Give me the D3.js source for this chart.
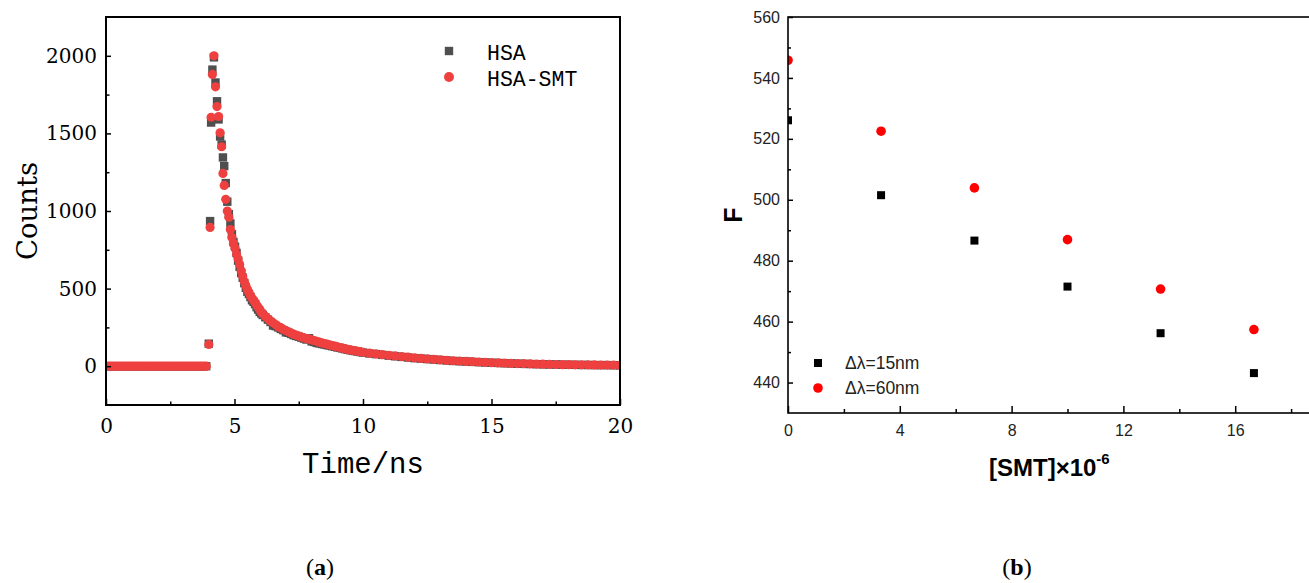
<!DOCTYPE html>
<html lang="en">
	<head>
		<meta charset="utf-8">
		<title>Fluorescence decay and quenching</title>
		<script type="text/javascript" src="https://cdn.jsdelivr.net/npm/d3@7/dist/d3.min.js"></script>
		<style type="text/css">
			body { margin: 0; background: #fff; }
			svg { display: block; }
		</style>
	</head>
	<body>
		<script type="text/javascript">

			//Panel (a) data: decay curves
			var timeNs = [0, 0.1, 0.2, 0.3, 0.4, 0.5, 0.6, 0.7, 0.8, 0.9, 1.0, 1.1, 1.2, 1.3, 1.4, 1.5, 1.6, 1.7, 1.8, 1.9,
				2.0, 2.1, 2.2, 2.3, 2.4, 2.5, 2.6, 2.7, 2.8, 2.9, 3.0, 3.1, 3.2, 3.3, 3.4, 3.5, 3.6, 3.7, 3.8, 3.9,
				4.0, 4.05, 4.09, 4.14, 4.2, 4.26, 4.32, 4.38, 4.44, 4.5,
				4.55, 4.6, 4.66, 4.72, 4.78, 4.84, 4.9, 4.96, 5.02, 5.08, 5.14, 5.2, 5.26, 5.32, 5.38, 5.44, 5.5,
				5.56, 5.62, 5.68, 5.74, 5.8, 5.86, 5.92, 5.98, 6.04,
				6.1, 6.2, 6.3, 6.4, 6.5, 6.6, 6.7, 6.8, 6.9, 7.0, 7.1, 7.2, 7.3, 7.4, 7.5, 7.6, 7.7, 7.8, 7.9, 8.0,
				8.1, 8.2, 8.3, 8.4, 8.5, 8.6, 8.7, 8.8, 8.9, 9.0, 9.1, 9.2, 9.3, 9.4, 9.5, 9.6, 9.7, 9.8, 9.9, 10.0,
				10.25, 10.5, 10.75, 11.0, 11.25, 11.5, 11.75, 12.0, 12.25, 12.5, 12.75, 13.0, 13.25, 13.5, 13.75, 14.0,
				14.25, 14.5, 14.75, 15.0, 15.25, 15.5, 15.75, 16.0, 16.25, 16.5, 16.75, 17.0, 17.25, 17.5, 17.75, 18.0,
				18.25, 18.5, 18.75, 19.0, 19.25, 19.5, 19.75, 20.0];

			var hsaCounts = [0, 0, 0, 0, 0, 0, 0, 0, 0, 0, 0, 0, 0, 0, 0, 0, 0, 0, 0, 0,
				0, 0, 0, 0, 0, 0, 0, 0, 0, 0, 0, 0, 0, 0, 0, 0, 0, 0, 0, 0,
				145, 935, 1570, 1911, 1990, 1828, 1707, 1590, 1480, 1428,
				1345, 1289, 1180, 1060, 980, 920, 850, 800, 770, 730, 680, 640, 600, 570, 535, 505, 480,
				465, 445, 425, 415, 400, 380, 365, 350, 340,
				330, 315, 300, 285, 262, 258, 250, 240, 232, 218, 215, 208, 200, 195, 190, 184, 178, 172, 180, 160,
				156, 150, 147, 143, 140, 136, 133, 129, 125, 121, 118, 114, 110, 106, 103, 100, 97, 94, 91, 88,
				82, 78, 73, 68, 64, 60, 56, 52, 49, 46, 43, 40, 37, 34, 32, 30,
				28, 26, 24, 22, 21, 19, 18, 16, 15, 14, 13, 12, 11, 11, 10, 9,
				9, 8, 8, 7, 7, 7, 6, 6];

			var smtCounts = [0, 0, 0, 0, 0, 0, 0, 0, 0, 0, 0, 0, 0, 0, 0, 0, 0, 0, 0, 0,
				0, 0, 0, 0, 0, 0, 0, 0, 0, 0, 0, 0, 0, 0, 0, 0, 0, 0, 0, 0,
				140, 894, 1604, 1880, 2000, 1800, 1673, 1609, 1504, 1414,
				1242, 1165, 1075, 1000, 960, 880, 830, 790, 760, 720, 690, 655, 615, 580, 545, 520, 495,
				475, 455, 440, 425, 410, 395, 380, 365, 350,
				338, 322, 305, 292, 280, 268, 255, 247, 238, 230, 222, 214, 206, 200, 194, 188, 183, 178, 174, 170,
				165, 160, 155, 150, 146, 142, 137, 133, 129, 125, 120, 116, 112, 108, 105, 102, 99, 96, 93, 90,
				84, 79, 74, 70, 66, 62, 58, 54, 50, 47, 44, 41, 38, 35, 33, 31,
				29, 27, 25, 23, 21, 20, 18, 17, 16, 15, 14, 13, 12, 11, 10, 10,
				9, 9, 8, 8, 7, 7, 7, 6];

			var decayXTicks = [0, 5, 10, 15, 20];
			var decayXMinor = [2.5, 7.5, 12.5, 17.5];
			var decayYTicks = [0, 500, 1000, 1500, 2000];
			var decayYMinor = [250, 750, 1250, 1750];

			//Panel (b) data: F versus [SMT]
			var smtConc = [0, 3.33, 6.67, 10, 13.33, 16.67];
			var f15nm = [526.1, 501.5, 486.6, 471.5, 456.2, 443.1];
			var f60nm = [545.8, 522.5, 503.9, 486.9, 470.7, 457.4];

			var concXTicks = [0, 4, 8, 12, 16];
			var concXMinor = [2, 6, 10, 14, 18];
			var fYTicks = [440, 460, 480, 500, 520, 540, 560];
			var fYMinor = [450, 470, 490, 510, 530, 550];

			var w = 1309;
			var h = 583;

			var serif = "'DejaVu Serif', serif";
			var mono = "'Liberation Mono', monospace";
			var sans = "'Liberation Sans', Arial, sans-serif";
			var plain = d3.format("d");

			var svg = d3.select("body")
						.append("svg")
						.attr("width", w)
						.attr("height", h);

			svg.append("rect")
				.attr("width", w)
				.attr("height", h)
				.attr("fill", "white");

			//Scales
			var xL = d3.scaleLinear().domain([0, 20]).range([106, 620]);
			var yL = d3.scaleLinear().domain([-250, 2250]).range([405, 17]);
			var xR = d3.scaleLinear().domain([0, 20]).range([788, 1347]);
			var yR = d3.scaleLinear().domain([430, 560]).range([413, 17]);

			var defs = svg.append("defs");
			defs.append("clipPath").attr("id", "clipL")
				.append("rect")
				.attr("x", xL(0)).attr("y", yL(2250))
				.attr("width", xL(20) - xL(0)).attr("height", yL(-250) - yL(2250));
			defs.append("clipPath").attr("id", "clipR")
				.append("rect")
				.attr("x", xR(0)).attr("y", yR(560))
				.attr("width", xR(20) - xR(0)).attr("height", yR(430) - yR(560));

			function styleAxis(g, family, size, color) {
				g.select(".domain").remove();
				g.selectAll("line").attr("stroke", "black").attr("stroke-width", 1.5);
				g.attr("font-family", family).attr("font-size", size);
				g.selectAll("text").attr("fill", color);
			}

			// ---------- Panel (a) ----------
			var left = svg.append("g");

			var decay = left.append("g").attr("clip-path", "url(#clipL)");

			decay.selectAll("rect.hsa")
				.data(timeNs)
				.enter()
				.append("rect")
				.attr("class", "hsa")
				.attr("x", function(d) { return xL(d) - 4.2; })
				.attr("y", function(d, i) { return yL(hsaCounts[i]) - 4.2; })
				.attr("width", 8.4)
				.attr("height", 8.4)
				.attr("fill", "#4f4f4f");

			decay.selectAll("circle.smt")
				.data(timeNs)
				.enter()
				.append("circle")
				.attr("class", "smt")
				.attr("cx", function(d) { return xL(d); })
				.attr("cy", function(d, i) { return yL(smtCounts[i]); })
				.attr("r", 4.6)
				.attr("fill", "#ef4040");

			left.append("g")
				.attr("transform", "translate(0," + yL(-250) + ")")
				.call(d3.axisBottom(xL).tickValues(decayXTicks).tickFormat(plain).tickSize(-6).tickPadding(14))
				.call(styleAxis, serif, 20, "black");
			left.append("g")
				.attr("transform", "translate(0," + yL(-250) + ")")
				.call(d3.axisBottom(xL).tickValues(decayXMinor).tickSize(-3.5).tickFormat(""))
				.call(styleAxis, serif, 20, "black");
			left.append("g")
				.attr("transform", "translate(" + xL(0) + ",0)")
				.call(d3.axisLeft(yL).tickValues(decayYTicks).tickFormat(plain).tickSize(-5).tickPadding(9))
				.call(styleAxis, serif, 20, "black");
			left.append("g")
				.attr("transform", "translate(" + xL(0) + ",0)")
				.call(d3.axisLeft(yL).tickValues(decayYMinor).tickSize(-3.5).tickFormat(""))
				.call(styleAxis, serif, 20, "black");

			left.append("rect")
				.attr("x", xL(0)).attr("y", yL(2250))
				.attr("width", xL(20) - xL(0)).attr("height", yL(-250) - yL(2250))
				.attr("fill", "none")
				.attr("stroke", "black")
				.attr("stroke-width", 2);

			left.append("text")
				.attr("transform", "translate(37," + (yL(-250) + yL(2250)) / 2 + ") rotate(-90)")
				.attr("text-anchor", "middle")
				.attr("font-family", serif)
				.attr("font-size", 27.5)
				.text("Counts");

			left.append("text")
				.attr("x", (xL(0) + xL(20)) / 2)
				.attr("y", 473)
				.attr("text-anchor", "middle")
				.attr("font-family", mono)
				.attr("font-size", 29)
				.text("Time/ns");

			//Legend (a)
			left.append("rect")
				.attr("x", 449 - 4.2).attr("y", 51 - 4.2)
				.attr("width", 8.4).attr("height", 8.4)
				.attr("fill", "#4f4f4f");
			left.append("circle")
				.attr("cx", 449).attr("cy", 77).attr("r", 5)
				.attr("fill", "#ef4040");
			left.append("text")
				.attr("x", 487).attr("y", 60)
				.attr("font-family", mono).attr("font-size", 21.5)
				.text("HSA");
			left.append("text")
				.attr("x", 487).attr("y", 86)
				.attr("font-family", mono).attr("font-size", 21.5)
				.text("HSA-SMT");

			// ---------- Panel (b) ----------
			var right = svg.append("g");

			var quench = right.append("g").attr("clip-path", "url(#clipR)");

			quench.selectAll("rect.f15")
				.data(smtConc)
				.enter()
				.append("rect")
				.attr("class", "f15")
				.attr("x", function(d) { return xR(d) - 4; })
				.attr("y", function(d, i) { return yR(f15nm[i]) - 4; })
				.attr("width", 8)
				.attr("height", 8)
				.attr("fill", "black");

			quench.selectAll("circle.f60")
				.data(smtConc)
				.enter()
				.append("circle")
				.attr("class", "f60")
				.attr("cx", function(d) { return xR(d); })
				.attr("cy", function(d, i) { return yR(f60nm[i]); })
				.attr("r", 4.8)
				.attr("fill", "#ff0000");

			right.append("g")
				.attr("transform", "translate(0," + yR(430) + ")")
				.call(d3.axisBottom(xR).tickValues(concXTicks).tickSize(-7).tickPadding(12))
				.call(styleAxis, sans, 16, "#222");
			right.append("g")
				.attr("transform", "translate(0," + yR(430) + ")")
				.call(d3.axisBottom(xR).tickValues(concXMinor).tickSize(-4).tickFormat(""))
				.call(styleAxis, sans, 16, "#222");
			right.append("g")
				.attr("transform", "translate(" + xR(0) + ",0)")
				.call(d3.axisLeft(yR).tickValues(fYTicks).tickSize(-5).tickPadding(8))
				.call(styleAxis, sans, 16, "#222");
			right.append("g")
				.attr("transform", "translate(" + xR(0) + ",0)")
				.call(d3.axisLeft(yR).tickValues(fYMinor).tickSize(-3).tickFormat(""))
				.call(styleAxis, sans, 16, "#222");

			right.append("rect")
				.attr("x", xR(0)).attr("y", yR(560))
				.attr("width", xR(20) - xR(0)).attr("height", yR(430) - yR(560))
				.attr("fill", "none")
				.attr("stroke", "black")
				.attr("stroke-width", 1.6);

			right.append("text")
				.attr("transform", "translate(742," + (yR(430) + yR(560)) / 2 + ") rotate(-90)")
				.attr("text-anchor", "middle")
				.attr("font-family", sans)
				.attr("font-weight", "bold")
				.attr("font-size", 25)
				.text("F");

			var xTitle = right.append("text")
				.attr("x", 989).attr("y", 476)
				.attr("font-family", sans)
				.attr("font-weight", "bold")
				.attr("font-size", 24);
			xTitle.append("tspan").text("[SMT]\u00d710");
			xTitle.append("tspan")
				.attr("dy", -12.5)
				.attr("font-size", 15)
				.text("-6");

			//Legend (b)
			right.append("rect")
				.attr("x", 818 - 4).attr("y", 363 - 4)
				.attr("width", 8).attr("height", 8)
				.attr("fill", "black");
			right.append("circle")
				.attr("cx", 818).attr("cy", 388).attr("r", 4.8)
				.attr("fill", "#ff0000");
			right.append("text")
				.attr("x", 845).attr("y", 369)
				.attr("font-family", sans).attr("font-size", 17.5)
				.attr("fill", "#222")
				.text("\u0394\u03bb=15nm");
			right.append("text")
				.attr("x", 845).attr("y", 394)
				.attr("font-family", sans).attr("font-size", 17.5)
				.attr("fill", "#222")
				.text("\u0394\u03bb=60nm");

			// ---------- Captions ----------
			var captions = [{ x: 320, label: "a" }, { x: 1017, label: "b" }];
			captions.forEach(function(c) {
				var t = svg.append("text")
					.attr("x", c.x).attr("y", 575)
					.attr("text-anchor", "middle")
					.attr("font-family", "'Liberation Serif', serif")
					.attr("font-size", 24);
				t.append("tspan").text("(");
				t.append("tspan").attr("font-weight", "bold").text(c.label);
				t.append("tspan").text(")");
			});

		</script>
	</body>
</html>
